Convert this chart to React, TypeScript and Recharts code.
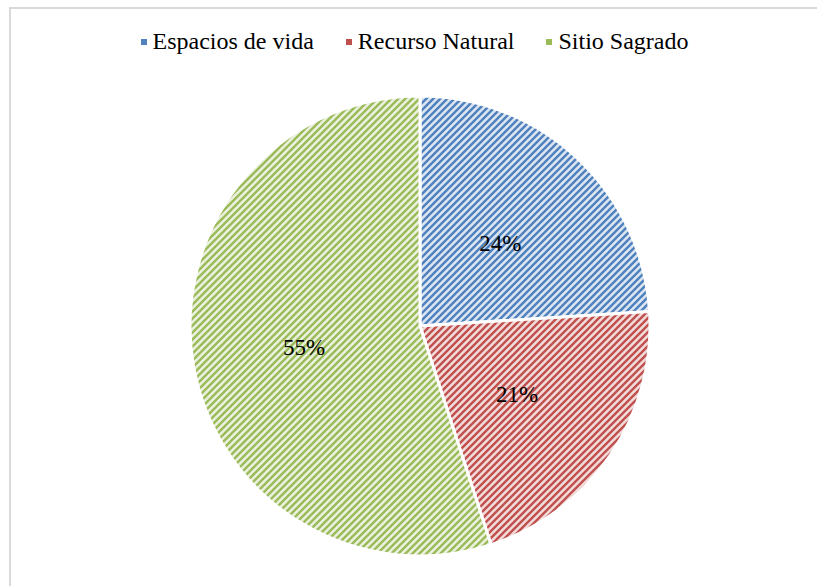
import { PieChart, Pie, Cell } from "recharts";

const categories = ["Espacios de vida", "Recurso Natural", "Sitio Sagrado"];
const values = [24, 21, 55];
const darkColors = ["#4f81bd", "#c0504d", "#9bbb59"];
const lightColors = ["#dce6f2", "#f2dcdb", "#ebf1de"];

const data = categories.map((name, i) => ({ name, value: values[i] }));
const total = values.reduce((a, b) => a + b, 0);

const FONT = "'Liberation Serif', 'Times New Roman', serif";
const RAD = Math.PI / 180;

function renderLabel(props: any) {
  const { cx, cy, midAngle, outerRadius, value } = props;
  const r = outerRadius * 0.51;
  const x = cx + r * Math.cos(-midAngle * RAD);
  const y = cy + r * Math.sin(-midAngle * RAD) + 3;
  return (
    <text
      x={x}
      y={y}
      textAnchor="middle"
      dominantBaseline="central"
      fill="#000"
      fontSize={23}
      fontFamily={FONT}
    >
      {Math.round((value / total) * 100)}%
    </text>
  );
}

export default function App() {
  return (
    <div style={{ position: "absolute", left: 0, top: 0, width: 817, height: 586, overflow: "hidden", background: "#fff" }}>
      <style>{`html,body{margin:0;overflow:hidden}`}</style>
      <div
        style={{
          position: "absolute",
          left: 9,
          top: 7,
          width: 900,
          height: 700,
          border: "2px solid #d9d9d9",
        }}
      />
      <div
        style={{
          position: "absolute",
          left: 0,
          top: 28,
          width: 817,
          display: "flex",
          justifyContent: "center",
          fontFamily: FONT,
          fontSize: 24,
          color: "#000",
          paddingLeft: 12,
          boxSizing: "border-box",
        }}
      >
        {categories.map((c, i) => (
          <div key={c} style={{ display: "flex", alignItems: "center", marginRight: i < 2 ? 32 : 0 }}>
            <span
              style={{
                display: "inline-block",
                width: 6,
                height: 6,
                background: darkColors[i],
                marginRight: 6,
              }}
            />
            <span>{c}</span>
          </div>
        ))}
      </div>
      <div style={{ position: "absolute", left: 0, top: 0 }}>
        <PieChart width={817} height={586} margin={{ top: 0, right: 0, bottom: 0, left: 0 }}>
          <defs>
            {darkColors.map((c, i) => (
              <pattern
                key={i}
                id={`stripe${i}`}
                width={7}
                height={7}
                patternUnits="userSpaceOnUse"
              >
                <rect width={7} height={7} fill={lightColors[i]} />
                <path d="M-1,8 L8,-1 M-4,4 L4,-4 M3,11 L11,3" stroke={c} strokeWidth={2.4} />
              </pattern>
            ))}
          </defs>
          <Pie
            data={data}
            dataKey="value"
            nameKey="name"
            cx={420}
            cy={326}
            outerRadius={230}
            startAngle={90}
            endAngle={-270}
            stroke="#ffffff"
            strokeWidth={3}
            label={renderLabel}
            labelLine={false}
            isAnimationActive={false}
          >
            {data.map((d, i) => (
              <Cell key={d.name} fill={`url(#stripe${i})`} />
            ))}
          </Pie>
        </PieChart>
      </div>
    </div>
  );
}
